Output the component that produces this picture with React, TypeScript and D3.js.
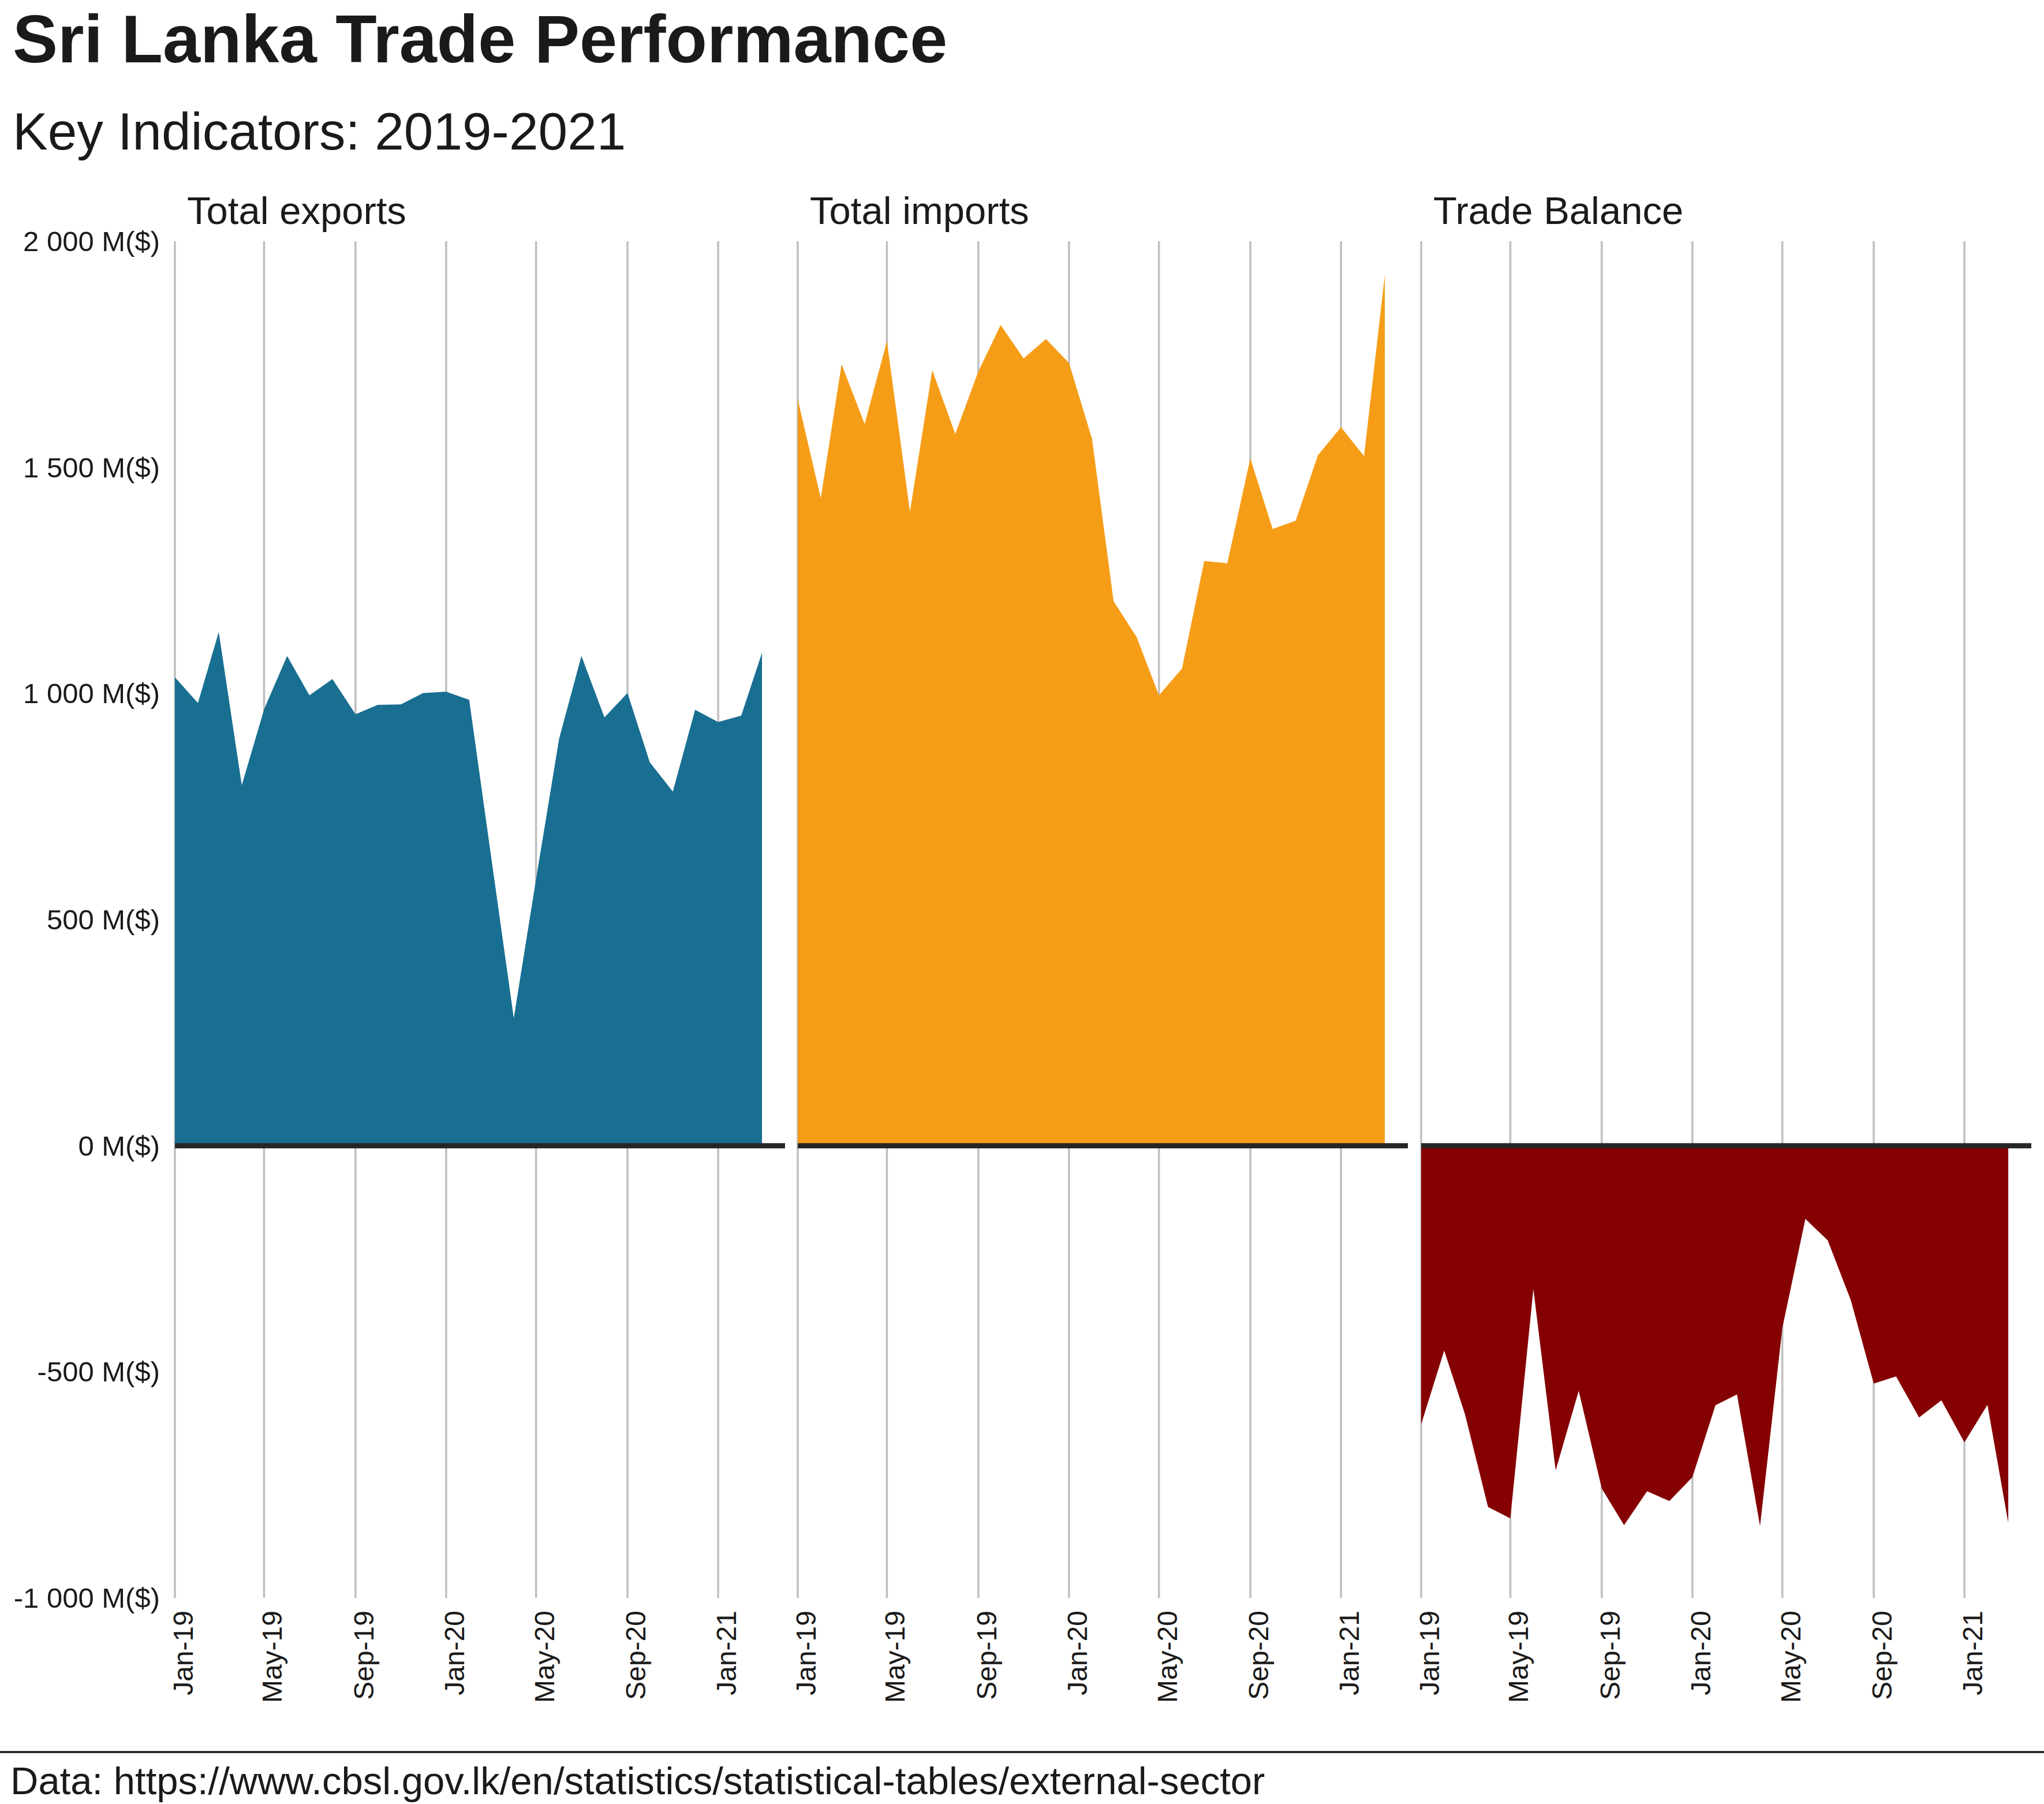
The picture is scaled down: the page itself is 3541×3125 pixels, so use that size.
import React, { useEffect, useRef } from 'react';
import * as d3 from 'd3';

// monthly series, Jan-2019 .. Mar-2021 (millions of USD)
const months = [
  '2019-01', '2019-02', '2019-03', '2019-04', '2019-05', '2019-06', '2019-07', '2019-08', '2019-09',
  '2019-10', '2019-11', '2019-12', '2020-01', '2020-02', '2020-03', '2020-04', '2020-05', '2020-06',
  '2020-07', '2020-08', '2020-09', '2020-10', '2020-11', '2020-12', '2021-01', '2021-02', '2021-03',
];

const exportsValues = [
  1036, 979, 1136, 797, 965, 1083, 996, 1032, 954, 975, 976, 1001, 1004, 986, 645, 282, 590, 900,
  1083, 947, 1001, 848, 783, 964, 937, 951, 1090,
];

const importsValues = [
  1651, 1432, 1728, 1596, 1779, 1402, 1715, 1574, 1712, 1815, 1741, 1784, 1731, 1563, 1204, 1125, 996,
  1055, 1293, 1288, 1520, 1364, 1382, 1527, 1589, 1525, 1926,
];

const balanceValues = [
  -616, -453, -594, -799, -824, -317, -718, -542, -758, -839, -764, -786, -733, -574, -550, -841, -403,
  -162, -209, -341, -526, -510, -601, -563, -656, -573, -834,
];

const panelTitles = ['Total exports', 'Total imports', 'Trade Balance'];
const panelColors = ['#186f91', '#f69d18', '#850001'];

const xTickDates = ['2019-01', '2019-05', '2019-09', '2020-01', '2020-05', '2020-09', '2021-01'];
const xTickLabels = ['Jan-19', 'May-19', 'Sep-19', 'Jan-20', 'May-20', 'Sep-20', 'Jan-21'];
const yTicks = [2000, 1500, 1000, 500, 0, -500, -1000];

const FONT = '"Liberation Sans", Arial, Helvetica, sans-serif';
const TEXT = '#1a1a1a';

const parseMonth = d3.timeParse('%Y-%m');

// "1 000 M($)" style, plain hyphen for negatives
const formatY = (d: number) =>
  `${d3.format(',')(d).replace(/,/g, ' ').replace('\u2212', '-')} M($)`;

const App: React.FC = () => {
  const svgRef = useRef<SVGSVGElement>(null);

  useEffect(() => {
    if (!svgRef.current) return;
    const svg = d3.select(svgRef.current);
    svg.selectAll('*').remove();

    const width = 3541;
    const height = 3125;
    svg.attr('width', width).attr('height', height);

    const panelLefts = [303, 1382, 2462];
    const panelWidth = 1057;
    const top = 418;
    const bottom = 2768;

    const y = d3.scaleLinear().domain([-1000, 2000]).range([bottom, top]);

    // title block
    svg
      .append('text')
      .attr('x', 22)
      .attr('y', 108)
      .style('font-family', FONT)
      .style('font-size', '117px')
      .style('font-weight', 'bold')
      .style('fill', TEXT)
      .text('Sri Lanka Trade Performance');

    svg
      .append('text')
      .attr('x', 22)
      .attr('y', 259)
      .style('font-family', FONT)
      .style('font-size', '91px')
      .style('fill', TEXT)
      .text('Key Indicators: 2019-2021');

    // y axis labels (shared, left of first panel)
    svg
      .append('g')
      .selectAll('text')
      .data(yTicks)
      .enter()
      .append('text')
      .attr('x', 277)
      .attr('y', (d) => y(d))
      .attr('dy', '0.35em')
      .attr('text-anchor', 'end')
      .style('font-family', FONT)
      .style('font-size', '49px')
      .style('fill', TEXT)
      .text((d) => formatY(d));

    const series = [exportsValues, importsValues, balanceValues];
    const dates = months.map((m) => parseMonth(m) as Date);
    const tickDates = xTickDates.map((m) => parseMonth(m) as Date);

    series.forEach((values, i) => {
      const left = panelLefts[i];
      const x = d3
        .scaleTime()
        .domain([parseMonth('2019-01') as Date, parseMonth('2021-04') as Date])
        .range([left, left + panelWidth]);

      const g = svg.append('g');

      // vertical grid
      g.selectAll('.grid')
        .data(tickDates)
        .enter()
        .append('line')
        .attr('x1', (d) => x(d))
        .attr('x2', (d) => x(d))
        .attr('y1', top)
        .attr('y2', bottom)
        .attr('stroke', '#bfbfbf')
        .attr('stroke-width', 3.5);

      const area = d3
        .area<number>()
        .x((_, j) => x(dates[j]))
        .y0(y(0))
        .y1((d) => y(d));

      g.append('path').attr('d', area(values) as string).attr('fill', panelColors[i]);

      // zero line
      g.append('line')
        .attr('x1', left)
        .attr('x2', left + panelWidth)
        .attr('y1', y(0))
        .attr('y2', y(0))
        .attr('stroke', '#262626')
        .attr('stroke-width', 9);

      // facet title
      g.append('text')
        .attr('x', left + 21)
        .attr('y', 388)
        .style('font-family', FONT)
        .style('font-size', '67px')
        .style('fill', TEXT)
        .text(panelTitles[i]);

      // x labels, rotated
      g.selectAll('.xlab')
        .data(tickDates)
        .enter()
        .append('text')
        .attr('transform', (d) => `translate(${x(d) + 14},${bottom + 22}) rotate(-90)`)
        .attr('dy', '0.35em')
        .attr('text-anchor', 'end')
        .style('font-family', FONT)
        .style('font-size', '48px')
        .style('fill', TEXT)
        .text((_, j) => xTickLabels[j]);
    });

    // caption rule + source
    svg
      .append('line')
      .attr('x1', 0)
      .attr('x2', width)
      .attr('y1', 3035)
      .attr('y2', 3035)
      .attr('stroke', '#1a1a1a')
      .attr('stroke-width', 3.5);

    svg
      .append('text')
      .attr('x', 18)
      .attr('y', 3108)
      .style('font-family', FONT)
      .style('font-size', '67px')
      .style('fill', TEXT)
      .text('Data: https://www.cbsl.gov.lk/en/statistics/statistical-tables/external-sector');
  }, []);

  return (
    <div style={{ position: 'absolute', left: 0, top: 0, background: '#fff' }}>
      <svg ref={svgRef} style={{ display: 'block' }} />
    </div>
  );
};

export default App;
